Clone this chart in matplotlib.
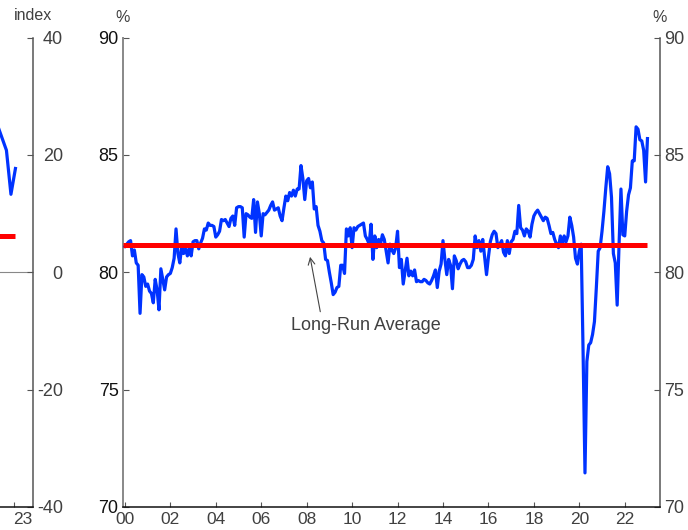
import matplotlib
matplotlib.use('Agg')
import matplotlib.pyplot as plt
import numpy as np
from matplotlib.ticker import FixedLocator, FixedFormatter, NullFormatter

plt.rcParams['font.family'] = ['Liberation Sans', 'DejaVu Sans']

# ---------------- data ----------------
# Right panel: capacity utilisation (%), monthly from Jan 2000
start_year = 2000
cu_2000 = [81.1, 81.2, 81.3, 81.35, 80.7, 80.95, 80.4, 80.3, 78.25, 79.9, 79.8, 79.4]
cu_2001 = [79.5, 79.2, 79.1, 78.7, 79.7, 79.25, 78.4, 80.15, 79.7, 79.25, 79.8, 79.9]
cu_2002 = [79.95, 80.2, 80.6, 81.85, 80.8, 80.4, 81.1, 80.8, 81.0, 80.7, 81.05, 80.7]
cu_2003 = [81.3, 81.35, 81.35, 81.0, 81.25, 81.45, 81.85, 81.8, 82.1, 82.0, 82.0, 81.95]
cu_2004 = [81.5, 81.6, 81.75, 82.25, 82.2, 82.25, 82.1, 81.95, 82.3, 82.4, 82.0, 82.75]
cu_2005 = [82.8, 82.8, 82.75, 81.5, 82.5, 82.45, 82.35, 82.3, 83.1, 81.7, 83.0, 82.5]
cu_2006 = [81.55, 82.5, 82.45, 82.55, 82.65, 82.85, 83.0, 82.65, 82.7, 82.75, 82.4, 82.2]
cu_2007 = [82.75, 83.25, 83.05, 83.4, 83.25, 83.5, 83.25, 83.55, 83.55, 84.55, 84.0, 83.1]
cu_2008 = [83.9, 84.0, 83.6, 83.85, 82.7, 82.8, 82.0, 81.75, 81.35, 81.25, 80.55, 80.5]
cu_2009 = [80.0, 79.55, 79.05, 79.15, 79.35, 79.4, 80.3, 80.3, 79.95, 81.85, 81.55, 81.9]
cu_2010 = [81.05, 81.9, 81.8, 81.95, 82.0, 82.05, 82.1, 81.55, 81.4, 81.2, 82.05, 80.55]
cu_2011 = [81.55, 81.05, 81.4, 81.2, 81.6, 81.4, 80.9, 80.4, 81.2, 80.95, 80.8, 81.05]
cu_2012 = [81.75, 80.2, 80.55, 79.5, 80.05, 80.6, 79.85, 80.05, 79.85, 80.1, 79.6, 79.65]
cu_2013 = [79.6, 79.6, 79.7, 79.65, 79.55, 79.5, 79.65, 79.85, 80.1, 79.35, 80.05, 80.35]
cu_2014 = [81.35, 80.55, 79.9, 80.55, 80.3, 79.3, 80.7, 80.5, 80.15, 80.35, 80.5, 80.55]
cu_2015 = [80.45, 80.2, 80.2, 80.3, 80.55, 81.55, 81.05, 81.35, 80.9, 81.4, 80.65, 79.9]
cu_2016 = [80.65, 81.3, 81.6, 81.75, 81.65, 81.05, 81.2, 81.35, 80.85, 80.7, 81.35, 80.8]
cu_2017 = [81.3, 81.4, 81.75, 81.65, 82.85, 81.9, 81.8, 81.55, 81.85, 81.75, 81.5, 82.05]
cu_2018 = [82.4, 82.55, 82.65, 82.5, 82.35, 82.2, 82.35, 82.3, 82.0, 81.65, 81.7, 81.4]
cu_2019 = [81.2, 81.05, 81.55, 81.15, 81.55, 81.3, 81.55, 82.35, 82.0, 81.5, 80.6, 80.35]
cu_2020 = [80.9, 81.2, 76.6, 71.45, 76.2, 76.9, 77.0, 77.35, 77.9, 79.35, 80.9, 81.05]
cu_2021 = [81.75, 82.6, 83.6, 84.5, 84.2, 83.2, 80.8, 80.4, 78.6, 81.2, 83.55, 81.6]
cu_2022 = [81.55, 82.6, 83.3, 83.6, 84.75, 84.75, 86.2, 86.1, 85.65, 85.6, 85.2, 83.85]
cu_2023 = [85.7]
long_run_avg = 81.15

# Left panel: index, visible tail only
left_dates = [2022.0, 2022.58, 2022.83, 2023.08]
left_vals = [25.8, 20.8, 13.3, 17.7]
left_avg = 6.2

right_xticks = list(range(2000, 2023, 2))
right_xlabels = ['00', '02', '04', '06', '08', '10', '12', '14', '16', '18', '20', '22']
right_yticks = [70, 75, 80, 85, 90]
right_ylabels = ['70', '75', '80', '85', '90']
left_yticks = [-40, -20, 0, 20, 40]
left_ylabels = ['-40', '-20', '0', '20', '40']
left_xticks = [2022, 2023]
left_xlabel_pos = [2023.5]
left_xlabels = ['23']

# ---------------- figure ----------------
W, H = 688, 530
fig = plt.figure(figsize=(W / 100, H / 100), dpi=100)

def frac(x0, y0, x1, y1):
    # pixel box (top-left origin) -> figure fraction rect
    return [x0 / W, 1 - y1 / H, (x1 - x0) / W, (y1 - y0) / H]

BLUE = '#0033ff'
RED = '#ff0000'
AX_TXT = '#404040'

# ----- right panel -----
ax = fig.add_axes(frac(122.7, 37.7, 660, 506.9))
cu = np.concatenate([cu_2000, cu_2001, cu_2002, cu_2003, cu_2004, cu_2005, cu_2006,
                     cu_2007, cu_2008, cu_2009, cu_2010, cu_2011, cu_2012, cu_2013,
                     cu_2014, cu_2015, cu_2016, cu_2017, cu_2018, cu_2019, cu_2020,
                     cu_2021, cu_2022, cu_2023])
dates = start_year + np.arange(len(cu)) / 12.0
xl = (start_year - 2.2 / 22.72, start_year + 535.1 / 22.72)
ax.plot(dates, cu, color=BLUE, lw=2.3, zorder=3)
ax.hlines(long_run_avg, xl[0], dates[-1], color=RED, lw=3.6, zorder=4)
ax.set_xlim(*xl)
ax.set_ylim(70, 90)

ax.xaxis.set_major_locator(FixedLocator(right_xticks))
ax.xaxis.set_major_formatter(FixedFormatter(right_xlabels))
ax.yaxis.set_major_locator(FixedLocator(right_yticks))
ax.yaxis.set_major_formatter(FixedFormatter(right_ylabels))
ax.tick_params(axis='x', direction='in', length=3.6, width=0.8, color='#555555',
               labelsize=12.5, labelcolor=AX_TXT, pad=4)
ax.tick_params(axis='y', direction='in', length=4, width=0.8, color='#555555',
               left=True, right=True, labelleft=True, labelright=True,
               labelsize=13, pad=3)
for t in ax.yaxis.get_major_ticks():
    t.label1.set_color('#111111')
    t.label2.set_color(AX_TXT)
ax.spines['top'].set_visible(False)
ax.spines['left'].set_color('#888888')
ax.spines['left'].set_linewidth(1.4)
ax.spines['right'].set_color('#555555')
ax.spines['right'].set_linewidth(1.1)
ax.spines['bottom'].set_color('#111111')
ax.spines['bottom'].set_linewidth(1.1)

ax.text(2010.61, 77.75, 'Long-Run Average', ha='center', va='center',
        fontsize=13, color=AX_TXT)
ax.annotate('', xy=(2008.15, 80.66), xytext=(2008.60, 78.32),
            arrowprops=dict(arrowstyle='->', color='#444444', lw=0.8,
                            shrinkA=0, shrinkB=0, mutation_scale=12))

# ----- left panel (mostly off the figure) -----
lw_px = 300
axl = fig.add_axes(frac(33 - lw_px, 37.7, 33, 506.9))
lx_right = 2023 + (33 - 14) / 18.0
axl.set_xlim(lx_right - lw_px / 18.0, lx_right)
axl.set_ylim(-40, 40)
axl.axhline(0, color='#888888', lw=0.8, zorder=1)
axl.plot(left_dates, left_vals, color=BLUE, lw=2.3, zorder=3)
axl.hlines(left_avg, lx_right - lw_px / 18.0, left_dates[-1], color=RED, lw=3.6, zorder=4)
axl.xaxis.set_major_locator(FixedLocator(left_xticks))
axl.xaxis.set_major_formatter(NullFormatter())
axl.xaxis.set_minor_locator(FixedLocator(left_xlabel_pos))
axl.xaxis.set_minor_formatter(FixedFormatter(left_xlabels))
axl.tick_params(axis='x', which='major', direction='in', length=3.6, width=0.8, color='#555555')
axl.tick_params(axis='x', which='minor', length=0, labelsize=12.5, labelcolor=AX_TXT, pad=4)
axl.yaxis.set_major_locator(FixedLocator(left_yticks))
axl.yaxis.set_major_formatter(FixedFormatter(left_ylabels))
axl.tick_params(axis='y', direction='in', length=4, width=0.8, color='#555555',
                left=False, right=True, labelleft=False, labelright=True,
                labelsize=13, labelcolor=AX_TXT, pad=21.5)
for t in axl.yaxis.get_major_ticks():
    t.label2.set_horizontalalignment('right')
axl.spines['top'].set_visible(False)
axl.spines['left'].set_visible(False)
axl.spines['right'].set_color('#555555')
axl.spines['right'].set_linewidth(1.1)
axl.spines['bottom'].set_color('#111111')
axl.spines['bottom'].set_linewidth(1.1)

# unit labels
fig.text(33 / W, 1 - 16 / H, 'index', ha='center', va='center', fontsize=11.5, color=AX_TXT)
fig.text(122.7 / W, 1 - 17 / H, '%', ha='center', va='center', fontsize=11.5, color=AX_TXT)
fig.text(660 / W, 1 - 17 / H, '%', ha='center', va='center', fontsize=11.5, color=AX_TXT)

fig.savefig('out.png', dpi=100)
